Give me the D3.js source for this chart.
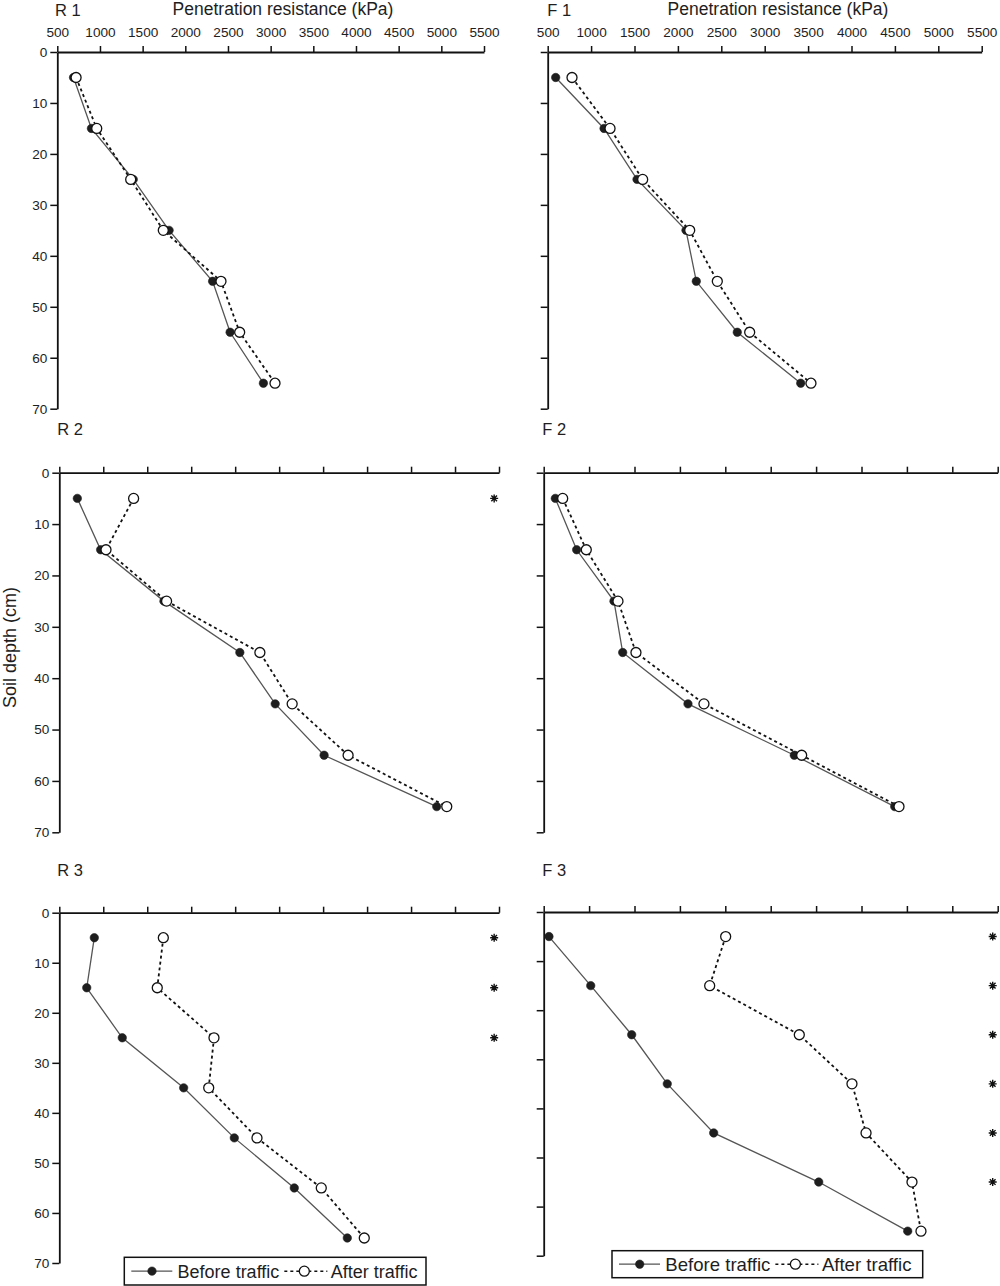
<!DOCTYPE html>
<html>
<head>
<meta charset="utf-8">
<script src="https://cdn.jsdelivr.net/npm/d3@7"></script>
<style>
  html, body { margin: 0; padding: 0; background: #fff; }
  svg { display: block; }
  text { font-family: "Liberation Sans", Arial, Helvetica, sans-serif; fill: #1e1e1e; }
</style>
</head>
<body>
<svg id="chart" width="1000" height="1286"></svg>
<script>
// ---------- data ----------
const depths = [5, 15, 25, 35, 45, 55, 65];
const xTicks = [500, 1000, 1500, 2000, 2500, 3000, 3500, 4000, 4500, 5000, 5500];
const yTicks = [0, 10, 20, 30, 40, 50, 60, 70];
const panelNames = ["R 1", "F 1", "R 2", "F 2", "R 3", "F 3"];
const seriesNames = ["Before traffic", "After traffic"];
const xTitle = "Penetration resistance (kPa)";
const yTitle = "Soil depth (cm)";

const r1Before = [690, 900, 1390, 1810, 2320, 2525, 2915];
const r1After  = [720, 962, 1360, 1742, 2418, 2637, 3051];
const f1Before = [592, 1149, 1529, 2093, 2212, 2684, 3415];
const f1After  = [780, 1218, 1594, 2136, 2454, 2827, 3533];
const r2Before = [705, 970, 1690, 2553, 2955, 3511, 4792];
const r2After  = [1345, 1031, 1720, 2781, 3148, 3784, 4906];
const f2Before = [628, 863, 1274, 1370, 2089, 3260, 4366];
const f2After  = [709, 969, 1318, 1516, 2265, 3341, 4413];
const r3Before = [898, 812, 1216, 1914, 2490, 3172, 3775];
const r3After  = [1683, 1614, 2259, 2199, 2748, 3479, 3968];
const f3Before = [558, 1018, 1469, 1861, 2372, 3529, 4509];
const f3After  = [2504, 2328, 3315, 3895, 4050, 4556, 4655];

// depths flagged as significantly different (asterisks)
const r1Stars = [];
const f1Stars = [];
const r2Stars = [5];
const f2Stars = [];
const r3Stars = [5, 15, 25];
const f3Stars = [5, 15, 25, 35, 45, 55];
const starValue = 5445;

// ---------- layout ----------
const layout = [
  { x0: 57.3,  x1: 484,   y0: 52,    y1: 408.7,  left: true,  top: true,  lx: 55,    ly: 15.5,  titleX: 283 },
  { x0: 547.7, x1: 981.7, y0: 52,    y1: 408.7,  left: false, top: true,  lx: 547.3, ly: 15.5,  titleX: 778 },
  { x0: 59.3,  x1: 499,   y0: 472.7, y1: 832.3,  left: true,  top: false, lx: 57.3,  ly: 435 },
  { x0: 543.7, x1: 997.7, y0: 472.7, y1: 832.3,  left: false, top: false, lx: 542.3, ly: 435 },
  { x0: 59.3,  x1: 499,   y0: 912.7, y1: 1263,   left: true,  top: false, lx: 57.3,  ly: 876,
    legend: { x: 124.3, y: 1257.3, w: 301.7, h: 27.7, fs: 18 } },
  { x0: 543.7, x1: 997.7, y0: 912,   y1: 1255.7, left: false, top: false, lx: 542.3, ly: 876,
    legend: { x: 612, y: 1250.7, w: 310.7, h: 27, fs: 18.6 } }
];
const beforeSets = [r1Before, f1Before, r2Before, f2Before, r3Before, f3Before];
const afterSets  = [r1After,  f1After,  r2After,  f2After,  r3After,  f3After];
const starSets   = [r1Stars,  f1Stars,  r2Stars,  f2Stars,  r3Stars,  f3Stars];

const svg = d3.select("#chart");

const solidColor = "#555";
const dotColor = "#1e1e1e";

// eight-armed asterisk symbol
const symbolStar8 = {
  draw(context, size) {
    const r = Math.sqrt(size) / 2;
    const q = r * Math.SQRT1_2;
    context.moveTo(-r, 0); context.lineTo(r, 0);
    context.moveTo(0, -r); context.lineTo(0, r);
    context.moveTo(-q, -q); context.lineTo(q, q);
    context.moveTo(-q, q); context.lineTo(q, -q);
  }
};

function drawFilled(g, x, y) {
  g.append("circle").attr("cx", x).attr("cy", y).attr("r", 4.2)
    .attr("fill", dotColor).attr("stroke", dotColor).attr("stroke-width", 0.6);
}
function drawOpen(g, x, y) {
  g.append("circle").attr("cx", x).attr("cy", y).attr("r", 5)
    .attr("fill", "#fff").attr("stroke", "#111").attr("stroke-width", 1.3);
}

layout.forEach((L, i) => {
  const x = d3.scaleLinear().domain([500, 5500]).range([L.x0, L.x1]);
  const y = d3.scaleLinear().domain([0, 70]).range([L.y0, L.y1]);
  const g = svg.append("g");

  // top axis
  const xa = d3.axisTop(x).tickValues(xTicks).tickSize(6).tickSizeOuter(0).tickPadding(8.6)
    .tickFormat(L.top ? d3.format("d") : () => "");
  const gx = g.append("g").attr("transform", `translate(0,${L.y0})`).call(xa);
  // left axis
  const ya = d3.axisLeft(y).tickValues(yTicks).tickSize(7).tickSizeOuter(0).tickPadding(3)
    .tickFormat(L.left ? d3.format("d") : () => "");
  const gy = g.append("g").attr("transform", `translate(${L.x0},0)`).call(ya);

  [gx, gy].forEach(a => {
    a.select(".domain").attr("stroke", "#111").attr("stroke-width", 1.8);
    a.selectAll(".tick line").attr("stroke", "#111").attr("stroke-width", 1.5);
    a.selectAll(".tick text").style("font-family", '"Liberation Sans", Arial, sans-serif')
      .style("font-size", "13.6px").attr("fill", "#1e1e1e");
  });

  // panel label
  g.append("text").attr("x", L.lx).attr("y", L.ly).style("font-size", "16.5px").text(panelNames[i]);

  if (L.top) {
    g.append("text").attr("x", L.titleX).attr("y", 14.5).attr("text-anchor", "middle")
      .style("font-size", "17.5px").text(xTitle);
  }

  const before = depths.map((d, k) => ({ d, v: beforeSets[i][k] }));
  const after = depths.map((d, k) => ({ d, v: afterSets[i][k] }));
  const line = d3.line().x(p => x(p.v)).y(p => y(p.d));

  g.append("path").attr("d", line(before)).attr("fill", "none")
    .attr("stroke", solidColor).attr("stroke-width", 1.3);
  g.append("path").attr("d", line(after)).attr("fill", "none")
    .attr("stroke", "#111").attr("stroke-width", 1.8).attr("stroke-dasharray", "3,3");

  before.forEach(p => drawFilled(g, x(p.v), y(p.d)));
  after.forEach(p => drawOpen(g, x(p.v), y(p.d)));

  const star = d3.symbol().type(symbolStar8).size(64);
  starSets[i].forEach(d => {
    g.append("path").attr("d", star())
      .attr("transform", `translate(${x(starValue)},${y(d)})`)
      .attr("fill", "none").attr("stroke", "#111").attr("stroke-width", 1.4);
  });

  if (L.legend) {
    const lg = L.legend;
    const leg = g.append("g");
    leg.append("rect").attr("x", lg.x).attr("y", lg.y).attr("width", lg.w).attr("height", lg.h)
      .attr("fill", "#fff").attr("stroke", "#111").attr("stroke-width", 1.5);
    const cy = lg.y + lg.h / 2;
    const base = cy + lg.fs * 0.36;
    leg.append("line").attr("x1", lg.x + 7).attr("x2", lg.x + 48).attr("y1", cy).attr("y2", cy)
      .attr("stroke", solidColor).attr("stroke-width", 1.3);
    drawFilled(leg, lg.x + 27.7, cy);
    const t1 = leg.append("text").attr("x", lg.x + 53.3).attr("y", base)
      .style("font-size", lg.fs + "px").text(seriesNames[0]);
    const w1 = t1.node().getComputedTextLength();
    const sx = lg.x + 53.3 + w1 + 5;
    leg.append("line").attr("x1", sx).attr("x2", sx + 43).attr("y1", cy).attr("y2", cy)
      .attr("stroke", "#111").attr("stroke-width", 1.5).attr("stroke-dasharray", "3,3");
    drawOpen(leg, sx + 20, cy);
    leg.append("text").attr("x", sx + 46.5).attr("y", base)
      .style("font-size", lg.fs + "px").text(seriesNames[1]);
  }
});

// y title
svg.append("text").attr("transform", "translate(15.5,647.5) rotate(-90)")
  .attr("text-anchor", "middle").style("font-size", "18px").text(yTitle);
</script>
</body>
</html>
